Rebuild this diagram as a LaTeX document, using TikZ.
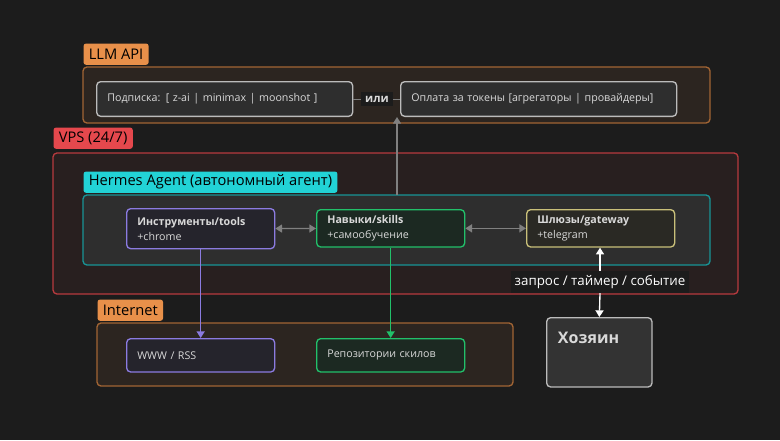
\documentclass[tikz,border=0pt]{standalone}
\usepackage{fontspec}
\setmainfont{Open Sans}
\usetikzlibrary{arrows.meta,positioning}
\definecolor{bgc}{HTML}{1C1C1C}
\definecolor{orng}{HTML}{E8904A}
\definecolor{redc}{HTML}{E5484D}
\definecolor{cyanc}{HTML}{22D3D6}
\definecolor{purp}{HTML}{8B7BE0}
\definecolor{grn}{HTML}{22C06A}
\definecolor{ylw}{HTML}{C9C07A}
\definecolor{gryc}{HTML}{BBBBBB}
\tikzset{every picture/.style={line width=0.75pt}}
\tikzset{
  frame/.style={draw, rounded corners=3pt, line width=1pt},
  tag/.style={anchor=north west, inner xsep=4pt, inner ysep=2pt, rounded corners=2pt, text=black, font=\fontsize{11}{12}\selectfont, minimum height=16pt},
  box/.style={draw=#1, rounded corners=3pt, line width=1pt, anchor=north west, align=left, text=white!85!black, font=\fontsize{8}{11}\selectfont, inner xsep=8pt, text width=95pt, fill=#1!8!bgc},
  lnk/.style={-{Triangle[width=6pt,length=5pt]}, line width=1pt}
}
\begin{document}
\begin{tikzpicture}[x=0.75pt,y=0.75pt,yscale=-1,xscale=1]
\fill[bgc] (0,0) rectangle (780,440);
\useasboundingbox (0,0) rectangle (780,440);

%LLM API
\draw[frame, orng!70!black, fill=orng!8!bgc] (83,67) rectangle (710,123);
\node[tag, fill=orng] (llm) at (83,43) {LLM API};
\node[box=gryc, fill=white!8!bgc, text width=176pt, minimum height=26pt] (sub) at (96,81) {Подписка: [ z-ai | minimax | moonshot ]};
\node[box=gryc, fill=white!8!bgc, text width=191pt, minimum height=26pt] (tok) at (400,81) {Оплата за токены [агрегаторы | провайдеры]};
\node[fill=bgc, text=white!85!black, font=\bfseries\fontsize{8.5}{10}\selectfont, inner sep=3pt] (ili) at (377,99) {или};
\draw[gray] (sub.east) -- (ili.west);
\draw[gray] (ili.east) -- (tok.west);

%VPS
\draw[frame, redc!80!black, fill=redc!6!bgc] (53,153) rectangle (738,294);
\node[tag, fill=redc] (vps) at (53,127) {VPS (24/7)};

%Hermes
\draw[frame, cyanc!70!black, fill=white!8!bgc] (83,195) rectangle (710,265);
\node[tag, fill=cyanc] (herm) at (83,171) {Hermes Agent (автономный агент)};
\coordinate (up) at (397,195);
\draw[lnk, gray] (up) -- (up |- tok.south);

\node[box=purp, minimum height=30pt] (tools) at (126,208) {\textbf{Инструменты/tools}\\+chrome};
\node[box=grn, minimum height=28pt] (skills) at (316,209) {\textbf{Навыки/skills}\\+самообучение};
\node[box=ylw, minimum height=28pt] (gate) at (526,209) {\textbf{Шлюзы/gateway}\\+telegram};
\draw[{Triangle[width=6pt,length=5pt]}-{Triangle[width=6pt,length=5pt]}, gray, line width=1pt] (tools) -- (skills);
\draw[{Triangle[width=6pt,length=5pt]}-{Triangle[width=6pt,length=5pt]}, gray, line width=1pt] (skills) -- (gate);

%Internet
\draw[frame, orng!70!black, fill=orng!8!bgc] (97,323) rectangle (513,386);
\node[tag, fill=orng] (inet) at (97,299) {Internet};
\node[box=purp, minimum height=25pt] (www) at (126,338) {WWW / RSS};
\node[box=grn, minimum height=25pt] (repo) at (316,338) {Репозитории скилов};
\draw[lnk, purp] (tools) -- (www);
\draw[lnk, grn] (skills) -- (repo);

%owner
\node[draw=gryc, fill=white!10!bgc, rounded corners=3pt, line width=1pt, anchor=north west, minimum width=79pt, minimum height=52pt] (own) at (546,317) {};
\node[anchor=north west, text=white!85!black, font=\bfseries\fontsize{12}{13}\selectfont] at (553,327) {Хозяин};
\node[fill=bgc, text=white, font=\fontsize{10}{11}\selectfont, inner sep=3pt] (evt) at (600,282) {запрос / таймер / событие};
\draw[lnk, white] (evt.north) -- (gate.south -| evt.north);
\draw[lnk, white] (evt.south) -- (own.north);
\end{tikzpicture}
\end{document}
